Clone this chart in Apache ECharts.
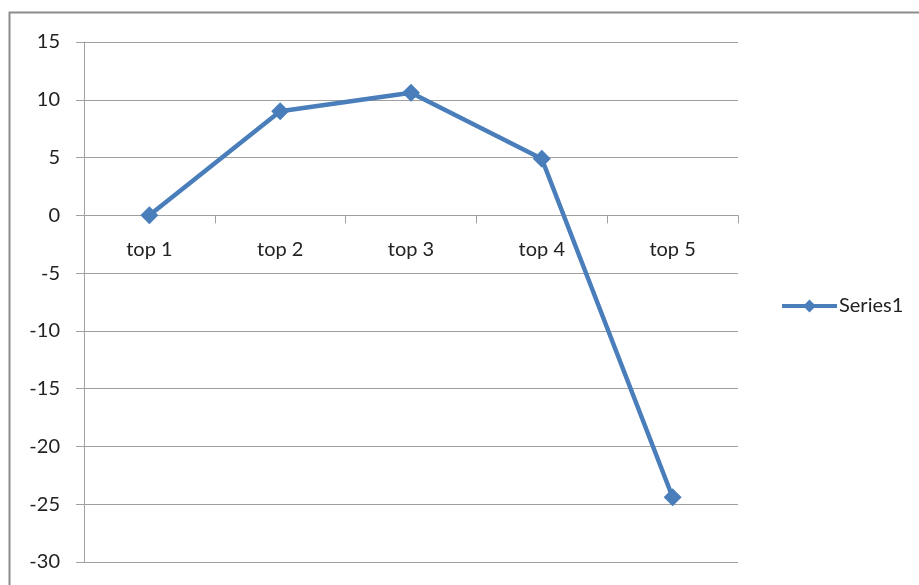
<!DOCTYPE html>
<html>
<head>
<meta charset="utf-8">
<script src="https://cdn.jsdelivr.net/npm/echarts@6/dist/echarts.min.js"></script>
<style>
  html, body { margin: 0; padding: 0; background: #fff; }
  #chart { width: 919px; height: 585px; }
</style>
</head>
<body>
<div id="chart"></div>
<script>
// Category labels along the horizontal axis
const categories = ['top 1', 'top 2', 'top 3', 'top 4', 'top 5'];
// Values of the single line series
const series1 = [0, 9.0, 10.6, 4.9, -24.4];
const seriesName = 'Series1';
// Value axis range
const yMin = -30;
const yMax = 15;
const yStep = 5;

const FONT = 'Lato, "Open Sans", sans-serif';
const BLUE = '#4A7EBB';
const GRID_GRAY = '#A0A0A0';

// Plot area placement
const GRID = { left: 84, right: 181, top: 42, bottom: 23 };
const plotHeight = 585 - GRID.top - GRID.bottom;
// Category axis sits on the zero line, labels hanging below it
const zeroOffset = -((0 - yMin) / (yMax - yMin)) * plotHeight;

const chart = echarts.init(document.getElementById('chart'), null, { renderer: 'canvas' });

chart.setOption({
  animation: false,
  backgroundColor: '#ffffff',
  graphic: [{
    type: 'rect',
    shape: { x: 9.5, y: 12.5, width: 1000, height: 1000 },
    style: { fill: 'none', stroke: '#8C8C8C', lineWidth: 2 },
    silent: true
  }],
  grid: Object.assign({ containLabel: false, outerBoundsMode: 'none' }, GRID),
  legend: {
    left: 775,
    top: 291,
    itemWidth: 55,
    itemHeight: 16,
    itemGap: 4,
    lineStyle: { width: 4 },
    textStyle: { fontFamily: FONT, fontSize: 20, color: '#222', padding: [0, 0, 0, -3] },
    data: [seriesName]
  },
  xAxis: {
    type: 'category',
    data: categories,
    boundaryGap: true,
    position: 'bottom',
    offset: zeroOffset,
    axisLine: { onZero: false, lineStyle: { color: GRID_GRAY, width: 1 } },
    axisTick: { show: true, length: 8, lineStyle: { color: GRID_GRAY } },
    axisLabel: { margin: 24, fontFamily: FONT, fontSize: 20, color: '#222' },
    splitLine: { show: false }
  },
  yAxis: {
    type: 'value',
    min: yMin,
    max: yMax,
    interval: yStep,
    axisLine: { show: true, lineStyle: { color: GRID_GRAY, width: 1 } },
    axisTick: { show: true, length: 8, lineStyle: { color: GRID_GRAY } },
    axisLabel: { margin: 24, fontFamily: FONT, fontSize: 20, color: '#222' },
    splitLine: { show: true, lineStyle: { color: GRID_GRAY, width: 1 } }
  },
  series: [{
    name: seriesName,
    type: 'line',
    data: series1,
    symbol: 'diamond',
    symbolSize: 18,
    lineStyle: { color: BLUE, width: 4.5 },
    itemStyle: { color: BLUE },
    z: 5
  }]
});
</script>
</body>
</html>
